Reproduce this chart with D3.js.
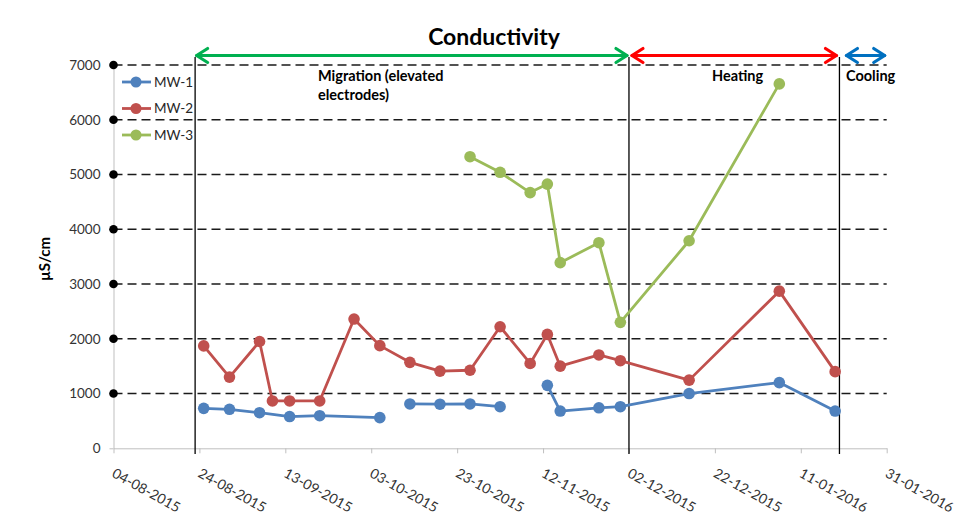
<!DOCTYPE html>
<html><head><meta charset="utf-8">
<script src="https://cdn.jsdelivr.net/npm/d3@7"></script>
<style>
html,body{margin:0;padding:0;background:#fff;}
svg{display:block;font-family:Lato,"Open Sans",sans-serif;}
</style></head>
<body><svg id="chart" width="979" height="523"></svg>
<script>
// ---- data ----
const title = "Conductivity";
const yLabel = "µS/cm";
const yTicks = [0,1000,2000,3000,4000,5000,6000,7000];
const xTickLabels = ["04-08-2015","24-08-2015","13-09-2015","03-10-2015","23-10-2015","12-11-2015","02-12-2015","22-12-2015","11-01-2016","31-01-2016"];
const seriesNames = ["MW-1","MW-2","MW-3"];
const seriesColors = ["#4F81BD","#C0504D","#9BBB59"];
// null value = break in the line
const mw1Dates  = ["2015-08-25","2015-08-31","2015-09-07","2015-09-14","2015-09-21","2015-10-05","2015-10-08","2015-10-12","2015-10-19","2015-10-26","2015-11-02","2015-11-08","2015-11-13","2015-11-16","2015-11-25","2015-11-30","2015-12-16","2016-01-06","2016-01-19"];
const mw1Values = [730,712,650,580,595,560,null,810,805,810,760,null,1150,680,740,760,1000,1200,680];
const mw2Dates  = ["2015-08-25","2015-08-31","2015-09-07","2015-09-10","2015-09-14","2015-09-21","2015-09-29","2015-10-05","2015-10-12","2015-10-19","2015-10-26","2015-11-02","2015-11-09","2015-11-13","2015-11-16","2015-11-25","2015-11-30","2015-12-16","2016-01-06","2016-01-19"];
const mw2Values = [1870,1300,1950,865,865,865,2360,1875,1570,1410,1425,2220,1550,2080,1500,1705,1600,1245,2870,1400];
const mw3Dates  = ["2015-10-26","2015-11-02","2015-11-09","2015-11-13","2015-11-16","2015-11-25","2015-11-30","2015-12-16","2016-01-06"];
const mw3Values = [5325,5040,4670,4825,3390,3755,2300,3790,6655];
const phaseBounds = ["2015-08-23","2015-12-02","2016-01-20","2016-01-31"];
const phaseNames  = [["Migration (elevated","electrodes)"],["Heating"],["Cooling"]];
const phaseColors = ["#00B050","#FF0000","#0070C0"];

// ---- drawing ----
const svg = d3.select("#chart");
const parseISO = d3.utcParse("%Y-%m-%d");
const parseDMY = d3.utcParse("%d-%m-%Y");
const xTickDates = xTickLabels.map(parseDMY);

const x = d3.scaleUtc().domain([xTickDates[0], xTickDates[xTickDates.length-1]]).range([113.5, 886.7]);
const y = d3.scaleLinear().domain([0,7000]).range([448.3, 65]);

// gridlines (dashed)
svg.append("g").selectAll("line").data(yTicks.filter(d=>d>0)).join("line")
  .attr("x1", x.range()[0]).attr("x2", x.range()[1])
  .attr("y1", d=>y(d)).attr("y2", d=>y(d))
  .attr("stroke","#1a1a1a").attr("stroke-width",1.4).attr("stroke-dasharray","9,5");

// x axis
const xAxis = svg.append("g").attr("transform",`translate(0,${y(0)})`)
  .call(d3.axisBottom(x).tickValues(xTickDates).tickFormat(d3.utcFormat("%d-%m-%Y")).tickSize(5).tickSizeOuter(0));
xAxis.select(".domain").attr("stroke","#BFBFBF");
xAxis.selectAll(".tick line").attr("stroke","#BFBFBF");
xAxis.selectAll(".tick text")
  .attr("text-anchor","start").attr("dy",null).attr("y",null)
  .attr("transform","translate(-3,28) rotate(29)")
  .attr("fill","#333").style("font-size","14px").style("font-family","Lato, sans-serif");

// y axis
const yAxis = svg.append("g").attr("transform",`translate(${x.range()[0]},0)`)
  .call(d3.axisLeft(y).tickValues(yTicks).tickFormat(d3.format("d")).tickSize(4).tickPadding(9).tickSizeOuter(0));
yAxis.select(".domain").attr("stroke","#BFBFBF");
yAxis.selectAll(".tick line").attr("stroke","#BFBFBF");
yAxis.selectAll(".tick text").attr("fill","#333").style("font-size","13.5px").style("font-family","Lato, sans-serif");
// black dots on y-axis
svg.append("g").selectAll("circle").data(yTicks.filter(d=>d>0)).join("circle")
  .attr("cx", x.range()[0]).attr("cy", d=>y(d)).attr("r",4.3).attr("fill","#000");

// phase vertical lines
const bounds = phaseBounds.map(parseISO);
svg.append("g").selectAll("line").data(bounds.slice(0,3)).join("line")
  .attr("x1", d=>x(d)).attr("x2", d=>x(d)).attr("y1",57).attr("y2",454)
  .attr("stroke","#000").attr("stroke-width",1.3);

// arrows
function arrow(x1,x2,yy,color){
  const g = svg.append("g").attr("stroke",color).attr("stroke-width",3.2).attr("fill","none")
    .attr("stroke-linecap","round").attr("stroke-linejoin","round");
  g.append("line").attr("x1",x1+1).attr("x2",x2-1).attr("y1",yy).attr("y2",yy);
  g.append("path").attr("d",`M${x1+12},${yy-7}L${x1+1},${yy}L${x1+12},${yy+7}`);
  g.append("path").attr("d",`M${x2-12},${yy-7}L${x2-1},${yy}L${x2-12},${yy+7}`);
}
arrow(x(bounds[0])+0.5, x(bounds[1])-1, 55.5, phaseColors[0]);
arrow(x(bounds[1])+2,  x(bounds[2])-2, 55.5, phaseColors[1]);
arrow(x(bounds[2])+6,  x(bounds[3])-1, 55.5, phaseColors[2]);

// phase labels
const labelX = [318, 712, 846];
phaseNames.forEach((lines,i)=>{
  const t = svg.append("text").attr("x",labelX[i]).attr("y",81)
    .style("font-size","14.5px").style("font-weight","bold").attr("fill","#000");
  lines.forEach((s,j)=>t.append("tspan").attr("x",labelX[i]).attr("dy", j===0?0:19).text(s));
});

// series
const series = [
  {name:seriesNames[0], color:seriesColors[0], pts:mw1Dates.map((d,i)=>({d:parseISO(d), v:mw1Values[i]}))},
  {name:seriesNames[1], color:seriesColors[1], pts:mw2Dates.map((d,i)=>({d:parseISO(d), v:mw2Values[i]}))},
  {name:seriesNames[2], color:seriesColors[2], pts:mw3Dates.map((d,i)=>({d:parseISO(d), v:mw3Values[i]}))}
];
const line = d3.line().defined(p=>p.v!=null).x(p=>x(p.d)).y(p=>y(p.v));
series.forEach(s=>{
  svg.append("path").datum(s.pts).attr("d",line).attr("fill","none")
    .attr("stroke",s.color).attr("stroke-width",2.8).attr("stroke-linejoin","round");
  svg.append("g").selectAll("circle").data(s.pts.filter(p=>p.v!=null)).join("circle")
    .attr("cx",p=>x(p.d)).attr("cy",p=>y(p.v)).attr("r",5.8).attr("fill",s.color);
});

// legend
const lg = svg.append("g");
series.forEach((s,i)=>{
  const yy = 82 + i*26.5;
  lg.append("line").attr("x1",122).attr("x2",151).attr("y1",yy).attr("y2",yy).attr("stroke",s.color).attr("stroke-width",2.8);
  lg.append("circle").attr("cx",136).attr("cy",yy).attr("r",5.5).attr("fill",s.color);
  lg.append("text").attr("x",154).attr("y",yy).attr("dy","0.36em").style("font-size","13.5px").attr("fill","#262626").text(s.name);
});

// title
svg.append("text").attr("x",494).attr("y",45).attr("text-anchor","middle")
  .style("font-size","23px").style("font-weight","bold").attr("fill","#000").text(title);

// y label
svg.append("text").attr("transform","translate(50,259) rotate(-90)").attr("text-anchor","middle")
  .style("font-size","15px").style("font-weight","bold").attr("fill","#000").text(yLabel);
</script>
</body></html>
